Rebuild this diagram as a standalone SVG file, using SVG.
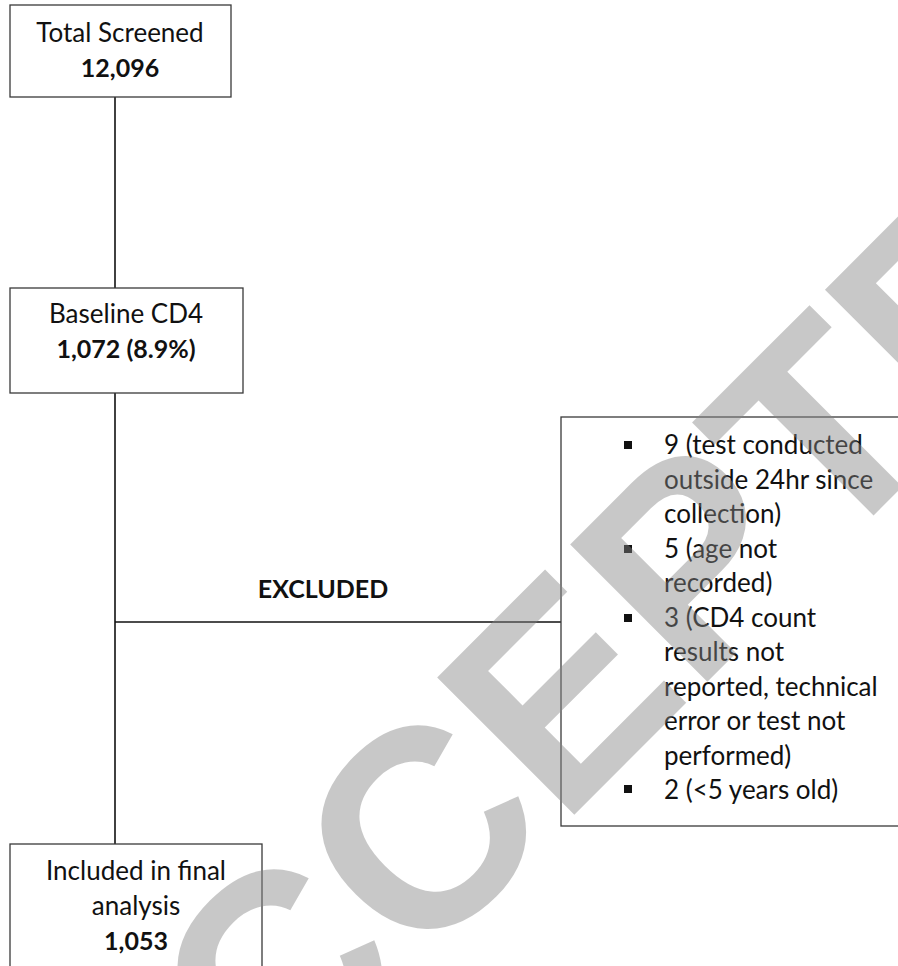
<svg xmlns="http://www.w3.org/2000/svg" width="898" height="966" viewBox="0 0 898 966">
<style>
.box{fill:#fff;stroke:#3a3a3a;stroke-width:1.3}
.con{stroke:#111;stroke-width:1.6;fill:none}
.t{font-family:Lato,"Open Sans","Liberation Sans",sans-serif;font-size:26px;fill:#111;text-anchor:middle}
.b{font-weight:bold;font-size:25px}
.li{font-family:Lato,"Open Sans","Liberation Sans",sans-serif;font-size:26px;fill:#111}
.wm{font-family:"Liberation Sans",Arial,sans-serif;font-weight:bold;font-size:282px;fill:#858585;fill-opacity:0.45}
</style>
<rect width="898" height="966" fill="#fff"/>
<g id="connectors">
<line class="con" x1="115" y1="97" x2="115" y2="288"/>
<line class="con" x1="115" y1="393" x2="115" y2="844"/>
<line class="con" x1="115" y1="622" x2="561" y2="622"/>
<text class="t b" x="323" y="598">EXCLUDED</text>
</g>
<g id="total">
<rect class="box" x="10" y="5" width="221" height="92"/>
<text class="t" x="120" y="42">Total Screened</text>
<text class="t b" x="120" y="77">12,096</text>
</g>
<g id="baseline">
<rect class="box" x="10" y="288" width="233" height="105"/>
<text class="t" x="126" y="323">Baseline CD4</text>
<text class="t b" x="126" y="358">1,072 (8.9%)</text>
</g>
<g id="excluded">
<rect class="box" x="561" y="417" width="345" height="409"/>
<g fill="#111">
<rect x="624" y="441" width="8" height="8"/>
<rect x="624" y="545" width="8" height="8"/>
<rect x="624" y="614" width="8" height="8"/>
<rect x="624" y="785" width="8" height="8"/>
</g>
<text class="li" x="664" y="454">9 (test conducted</text>
<text class="li" x="664" y="489">outside 24hr since</text>
<text class="li" x="664" y="523">collection)</text>
<text class="li" x="664" y="558">5 (age not</text>
<text class="li" x="664" y="592">recorded)</text>
<text class="li" x="664" y="627">3 (CD4 count</text>
<text class="li" x="664" y="661">results not</text>
<text class="li" x="664" y="696">reported, technical</text>
<text class="li" x="664" y="730">error or test not</text>
<text class="li" x="664" y="765">performed)</text>
<text class="li" x="664" y="799">2 (&lt;5 years old)</text>
</g>
<g id="included">
<rect class="box" x="10" y="844" width="252" height="140"/>
<text class="t" x="136" y="880">Included in final</text>
<text class="t" x="136" y="915">analysis</text>
<text class="t b" x="136" y="950">1,053</text>
</g>
<g id="watermark">
<text class="wm" transform="translate(129 1260) rotate(-45)">ACCEPTED</text>
</g>
</svg>
